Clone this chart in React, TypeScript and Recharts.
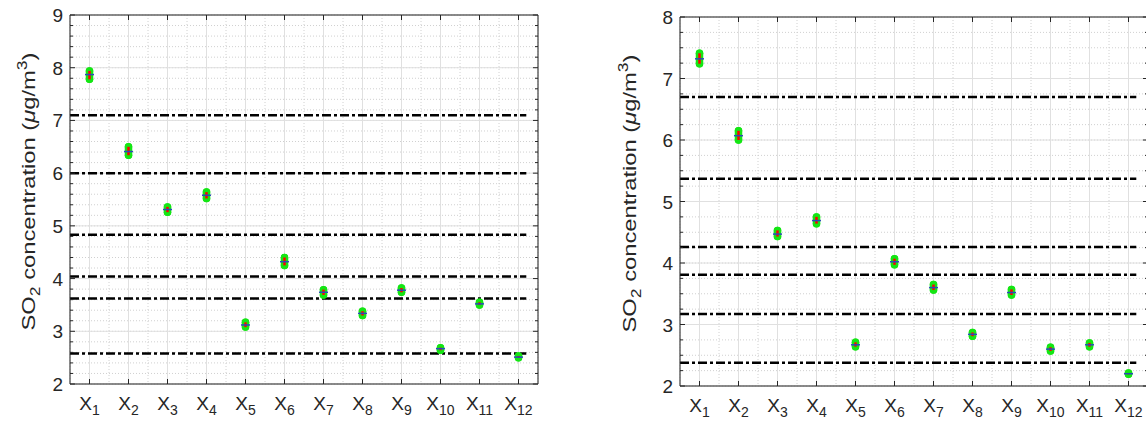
import React from 'react';
import {
  CartesianGrid,
  ErrorBar,
  ReferenceLine,
  Scatter,
  ScatterChart,
  XAxis,
  YAxis,
} from 'recharts';

// Categories X1..X12 placed at 1..12 on a numeric axis.
const categories = [1, 2, 3, 4, 5, 6, 7, 8, 9, 10, 11, 12];
const xMinorTicks = [0.5, 1.5, 2.5, 3.5, 4.5, 5.5, 6.5, 7.5, 8.5, 9.5, 10.5, 11.5, 12.5];
const thresholdSpan = [0.5, 12.2];

// Left panel
const leftMean = [7.87, 6.41, 5.31, 5.58, 3.12, 4.32, 3.74, 3.34, 3.78, 2.67, 3.52, 2.51];
const leftLo = [7.78, 6.34, 5.26, 5.52, 3.08, 4.25, 3.69, 3.3, 3.74, 2.64, 3.5, 2.5];
const leftHi = [7.94, 6.5, 5.36, 5.64, 3.17, 4.4, 3.79, 3.38, 3.82, 2.69, 3.55, 2.53];
const leftThresholds = [7.1, 6.0, 4.83, 4.04, 3.62, 2.58];
const leftYMajor = [2, 3, 4, 5, 6, 7, 8, 9];
const leftYMinor = [
  2, 2.2, 2.4, 2.6, 2.8, 3, 3.2, 3.4, 3.6, 3.8, 4, 4.2, 4.4, 4.6, 4.8, 5, 5.2, 5.4, 5.6, 5.8,
  6, 6.2, 6.4, 6.6, 6.8, 7, 7.2, 7.4, 7.6, 7.8, 8, 8.2, 8.4, 8.6, 8.8, 9,
];

// Right panel
const rightMean = [7.32, 6.07, 4.47, 4.69, 2.67, 4.02, 3.6, 2.84, 3.52, 2.6, 2.67, 2.2];
const rightLo = [7.24, 6.0, 4.43, 4.64, 2.64, 3.97, 3.56, 2.81, 3.48, 2.57, 2.64, 2.19];
const rightHi = [7.41, 6.15, 4.53, 4.75, 2.71, 4.07, 3.65, 2.87, 3.57, 2.63, 2.7, 2.21];
const rightThresholds = [6.7, 5.37, 4.26, 3.81, 3.17, 2.38];
const rightYMajor = [2, 3, 4, 5, 6, 7, 8];
const rightYMinor = [
  2, 2.25, 2.5, 2.75, 3, 3.25, 3.5, 3.75, 4, 4.25, 4.5, 4.75, 5, 5.25, 5.5, 5.75, 6, 6.25,
  6.5, 6.75, 7, 7.25, 7.5, 7.75, 8,
];

const AXIS = '#262626';
const FONT = '"Liberation Sans", Arial, sans-serif';

function buildRows(mean: number[], lo: number[], hi: number[]) {
  return categories.map((x, i) => ({
    x,
    mean: mean[i],
    err: [mean[i] - lo[i], hi[i] - mean[i]],
  }));
}

function XLabelTick(props: any) {
  const { x, y, payload } = props;
  return (
    <g>
      <line x1={x} x2={x} y1={y} y2={y - 5} stroke={AXIS} />
      <text x={x} y={y + 26} textAnchor="middle" fill={AXIS} fontSize={19} fontFamily={FONT}>
        <tspan>X</tspan>
        <tspan fontSize={14} dy={5}>
          {payload.value}
        </tspan>
      </text>
    </g>
  );
}

function XTopTick(props: any) {
  const { x, y } = props;
  return <line x1={x} x2={x} y1={y} y2={y + 5} stroke={AXIS} />;
}

function YLeftTick(props: any) {
  const { x, y, payload } = props;
  const major = Number.isInteger(payload.value);
  return (
    <g>
      <line x1={x} x2={x + (major ? 5 : 3)} y1={y} y2={y} stroke={AXIS} />
      {major && (
        <text x={x - 7} y={y + 7} textAnchor="end" fill={AXIS} fontSize={19} fontFamily={FONT}>
          {payload.value}
        </text>
      )}
    </g>
  );
}

function YRightTick(props: any) {
  const { x, y, payload } = props;
  const major = Number.isInteger(payload.value);
  return <line x1={x} x2={x - (major ? 5 : 3)} y1={y} y2={y} stroke={AXIS} />;
}

function CenterMark(props: any) {
  const { cx, cy } = props;
  return <line x1={cx - 4.5} x2={cx + 4.5} y1={cy} y2={cy} stroke="#2a4ab8" strokeWidth={1.5} />;
}

function makeTitle(offset: number) {
  return function YTitle(props: any) {
    const { viewBox } = props;
    const cx = viewBox.x - offset;
    const cy = viewBox.y + viewBox.height / 2 - 8;
    return (
      <text
        transform={`translate(${cx}, ${cy}) rotate(-90) scale(1.25, 1)`}
        textAnchor="middle"
        fill={AXIS}
        fontSize={19}
        fontFamily={FONT}
      >
        <tspan>SO</tspan>
        <tspan fontSize={14} dy={5}>2</tspan>
        <tspan dy={-5}> concentration (</tspan>
        <tspan fontStyle="italic">μ</tspan>
        <tspan>g/m</tspan>
        <tspan fontSize={14} dy={-8}>3</tspan>
        <tspan dy={8}>)</tspan>
      </text>
    );
  };
}

function Panel({
  width,
  margin,
  titleOffset,
  yDomain,
  yMajor,
  yMinor,
  mean,
  lo,
  hi,
  thresholds,
}: {
  width: number;
  margin: { top: number; right: number; bottom: number; left: number };
  titleOffset: number;
  yDomain: [number, number];
  yMajor: number[];
  yMinor: number[];
  mean: number[];
  lo: number[];
  hi: number[];
  thresholds: number[];
}) {
  const rows = buildRows(mean, lo, hi);
  const xDomain: [number, number] = [0.5, 12.5];
  const Title = makeTitle(titleOffset);
  // axes get a 1px box (a 0px box is not drawn), so the margins give that pixel back
  const m = { top: margin.top - 1, right: margin.right - 1, bottom: margin.bottom - 1, left: margin.left - 1 };
  return (
    <ScatterChart width={width} height={431} margin={m}>
      <XAxis xAxisId="b" type="number" dataKey="x" domain={xDomain} ticks={categories}
        height={1} tickSize={0} tickMargin={0} tickLine={false} interval={0}
        axisLine={{ stroke: AXIS }} tick={<XLabelTick />} allowDataOverflow />
      <XAxis xAxisId="t" orientation="top" type="number" dataKey="x" domain={xDomain} ticks={categories}
        height={1} tickSize={0} tickMargin={0} tickLine={false} interval={0}
        axisLine={{ stroke: AXIS }} tick={<XTopTick />} allowDataOverflow />
      <XAxis xAxisId="m" type="number" dataKey="x" domain={xDomain} ticks={xMinorTicks}
        interval={0} hide allowDataOverflow />
      <YAxis yAxisId="l" type="number" dataKey="mean" domain={yDomain} ticks={yMinor} width={1}
        tickSize={0} tickMargin={0} tickLine={false} interval={0}
        axisLine={{ stroke: AXIS }} tick={<YLeftTick />} allowDataOverflow
        label={<Title />} />
      <YAxis yAxisId="r" orientation="right" type="number" domain={yDomain} ticks={yMinor} width={1}
        tickSize={0} tickMargin={0} tickLine={false} interval={0}
        axisLine={{ stroke: AXIS }} tick={<YRightTick />} allowDataOverflow />
      <YAxis yAxisId="maj" type="number" domain={yDomain} ticks={yMajor} interval={0} hide allowDataOverflow />

      <CartesianGrid xAxisId="m" yAxisId="l" stroke="#d0d0d0" strokeDasharray="1 2" />
      <CartesianGrid xAxisId="b" yAxisId="maj" stroke="#e0e0e0" />

      {thresholds.map((v) => (
        <ReferenceLine
          key={v}
          xAxisId="b"
          yAxisId="l"
          segment={[
            { x: thresholdSpan[0], y: v },
            { x: thresholdSpan[1], y: v },
          ]}
          stroke="#000"
          strokeWidth={2.5}
          strokeDasharray="9 3 3 3"
        />
      ))}

      <Scatter xAxisId="b" yAxisId="l" data={rows} dataKey="mean" shape={() => <g />} isAnimationActive={false}>
        <ErrorBar dataKey="err" direction="y" width={0} stroke="#14e614" strokeWidth={7.5}
          strokeLinecap="round" isAnimationActive={false} />
      </Scatter>
      <Scatter xAxisId="b" yAxisId="l" data={rows} dataKey="mean" shape={<CenterMark />} isAnimationActive={false}>
        <ErrorBar dataKey="err" direction="y" width={0} stroke="#ff0000" strokeWidth={2.5}
          isAnimationActive={false} />
      </Scatter>
    </ScatterChart>
  );
}

export default function App() {
  return (
    <div style={{ position: 'absolute', left: 0, top: 0, width: 1146, height: 431, overflow: 'hidden', background: '#fff' }}>
      <div style={{ position: 'absolute', left: 0, top: 0 }}>
        <Panel
          width={560}
          margin={{ top: 15, right: 22, bottom: 47, left: 70 }}
          titleOffset={34}
          yDomain={[2, 9]}
          yMajor={leftYMajor}
          yMinor={leftYMinor}
          mean={leftMean}
          lo={leftLo}
          hi={leftHi}
          thresholds={leftThresholds}
        />
      </div>
      <div style={{ position: 'absolute', left: 600, top: 0 }}>
        <Panel
          width={570}
          margin={{ top: 17, right: 22, bottom: 45, left: 80 }}
          titleOffset={43}
          yDomain={[2, 8]}
          yMajor={rightYMajor}
          yMinor={rightYMinor}
          mean={rightMean}
          lo={rightLo}
          hi={rightHi}
          thresholds={rightThresholds}
        />
      </div>
    </div>
  );
}
